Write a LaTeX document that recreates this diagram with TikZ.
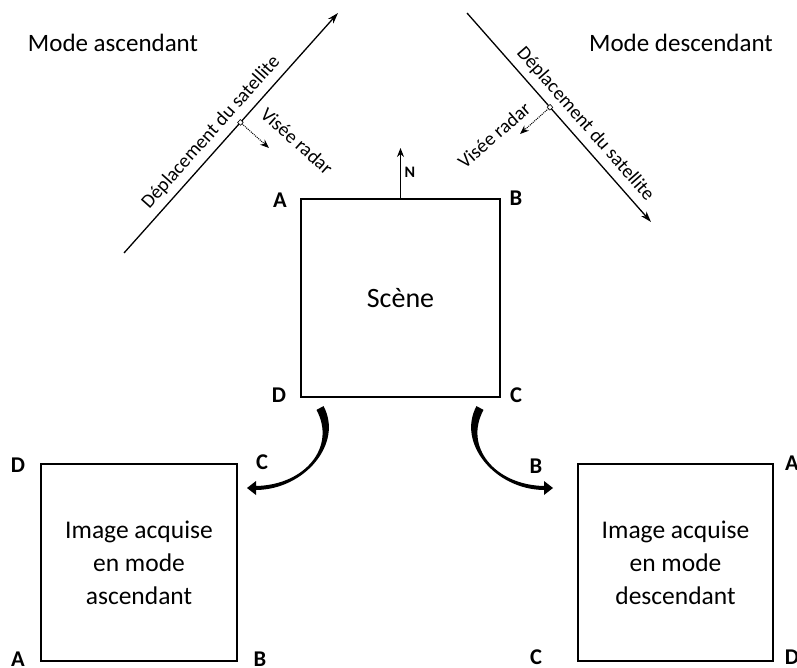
\documentclass[tikz,border=0pt]{standalone}
\usepackage{fontspec}
\setmainfont{Carlito}
\usetikzlibrary{arrows.meta}
\begin{document}
\begin{tikzpicture}[x=1pt,y=-1pt,
  box/.style={draw,line width=1.6pt,inner sep=0pt,align=center,
    font=\fontsize{25.5}{33}\selectfont},
  corner/.style={font=\fontsize{22.5}{26}\selectfont\bfseries,inner sep=0pt},
  title/.style={font=\fontsize{25}{30}\selectfont,inner sep=0pt},
  track/.style={line width=1.3pt,-{Stealth[length=11pt,width=7pt]}},
  tracklabel/.style={font=\fontsize{19.5}{23}\selectfont,sloped,above=3pt},
  look/.style={line width=1pt,densely dotted,-{Stealth[length=9pt,width=7pt]}},
  looklabel/.style={font=\fontsize{19.5}{23}\selectfont,inner sep=0pt},
  foot/.style={draw,fill=white,line width=0.6pt,inner sep=0pt,minimum size=4pt},
  turn/.style={fill=black}]
\useasboundingbox (0,0) rectangle (797,668);

% scene on the ground
\node[box,minimum width=199pt,minimum height=198pt,
  font=\fontsize{28}{33}\selectfont] (scene) at (400.5,298) {Scène};
\node[corner] (sA) at (280,200) {A};
\node[corner] (sB) at (516,198) {B};
\node[corner] (sD) at (279,395) {D};
\node[corner] (sC) at (516,395) {C};

% north arrow
\coordinate (north) at (400.5,148);
\draw[line width=1.1pt,-{Stealth[length=9pt,width=7pt]}] (scene.north) -- (north);
\node[font=\fontsize{16}{18}\selectfont\bfseries,inner sep=0pt] (nlabel) at (410,172) {N};

% ascending pass
\node[title] (modeA) at (113,43) {Mode ascendant};
\coordinate (L0) at (124,253);
\coordinate (L1) at (338,13);
\draw[track] (L0) -- node[tracklabel,pos=0.46] (trackA) {Déplacement du satellite} (L1);
\path (L0) -- coordinate[pos=0.544] (LM) (L1);
\coordinate (LV) at (269,148);
\draw[look] (LM) -- (LV);
\node[foot,rotate=48] (footA) at (LM) {};
\node[looklabel,rotate=-42] (lookA) at (297,141) {Visée radar};

% descending pass
\node[title] (modeD) at (681,43) {Mode descendant};
\coordinate (R0) at (467,13);
\coordinate (R1) at (651,222);
\draw[track] (R0) -- node[tracklabel,pos=0.58] (trackD) {Déplacement du satellite} (R1);
\path (R0) -- coordinate[pos=0.451] (RM) (R1);
\coordinate (RV) at (520,134);
\draw[look] (RM) -- (RV);
\node[foot,rotate=-48.6] (footD) at (RM) {};
\node[looklabel,rotate=41] (lookD) at (494,135) {Visée radar};

% image in ascending mode
\node[box,minimum width=196pt,minimum height=197pt] (imgA) at (139,562.5)
  {Image acquise\\en mode\\ascendant};
\node[corner] (aD) at (18,465) {D};
\node[corner] (aC) at (262,462) {C};
\node[corner] (aA) at (18,659) {A};
\node[corner] (aB) at (260,659) {B};

% image in descending mode
\node[box,minimum width=195pt,minimum height=197pt] (imgD) at (675.5,562.5)
  {Image acquise\\en mode\\descendant};
\node[corner] (dB) at (536,466) {B};
\node[corner] (dA) at (792,463) {A};
\node[corner] (dC) at (536,657) {C};
\node[corner] (dD) at (792,657) {D};

% tapered turning arrows
\fill[turn] (316.5,409.9) -- (323.5,406.1) .. controls (343.5,443) and (305,489.5) .. (256,490)
  -- (256,495) -- (247,488) -- (256,481) -- (256,486)
  .. controls (305,485) and (336.5,447) .. (316.5,409.9) -- cycle;
\fill[turn] (483.5,409.9) -- (476.5,406.1) .. controls (456.5,443) and (495,489.5) .. (544,490)
  -- (544,495) -- (553,488) -- (544,481) -- (544,486)
  .. controls (495,485) and (463.5,447) .. (483.5,409.9) -- cycle;
\end{tikzpicture}
\end{document}
